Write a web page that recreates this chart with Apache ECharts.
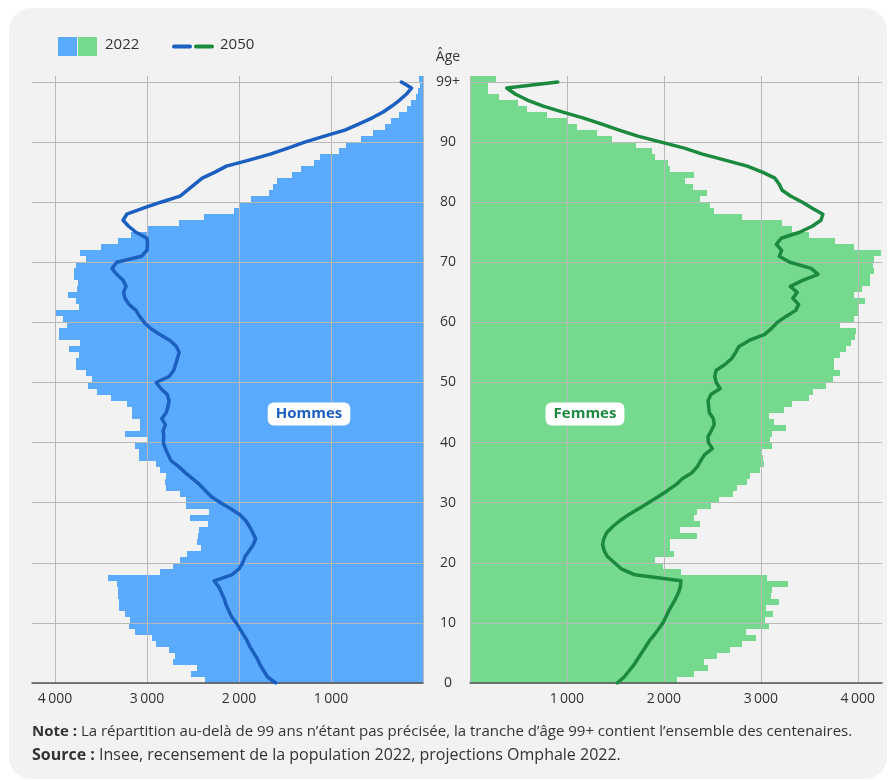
<!DOCTYPE html>
<html lang="fr">
<head>
<meta charset="utf-8">
<title>Pyramide des âges 2022 / 2050</title>
<script src="https://cdn.jsdelivr.net/npm/echarts/dist/echarts.min.js"></script>
<style>
  html, body { margin: 0; padding: 0; background: #ffffff; }
  #card {
    position: absolute; left: 9px; top: 8px; width: 878px; height: 771px;
    background: #f2f2f2; border-radius: 22px;
  }
  #chart { position: absolute; left: 0; top: 0; width: 891px; height: 780px; }
</style>
</head>
<body>
<div id="card"></div>
<div id="chart"></div>
<script>
// Ages 0..100, the last slot being shown as "99+"
const ages = Array.from({ length: 101 }, (_, i) => i);
const topAgeLabel = '99+';

// Hommes, recensement 2022 (bars)
const hommes2022 = [
  2365, 2520, 2460, 2720, 2700, 2760, 2900, 2950, 3130, 3195,
  3190, 3240, 3300, 3300, 3310, 3315, 3330, 3420, 2860, 2720,
  2645, 2565, 2409, 2456, 2445, 2434, 2337, 2536, 2329, 2572,
  2579, 2645, 2797, 2800, 2797, 2855, 2905, 3087, 3087, 3134,
  2989, 3235, 3072, 3072, 3159, 3159, 3213, 3387, 3539, 3641,
  3600, 3666, 3768, 3768, 3742, 3851, 3731, 3956, 3956, 3866,
  3913, 3996, 3739, 3775, 3858, 3760, 3750, 3797, 3797, 3768,
  3659, 3731, 3496, 3315, 3177, 2996, 2652, 2384, 2054, 1992,
  1873, 1674, 1630, 1587, 1420, 1329, 1184, 1123, 913, 833,
  670, 543, 416, 344, 261, 174, 127, 80, 54, 29,
  43
];

// Femmes, recensement 2022 (bars)
const femmes2022 = [
  2134, 2313, 2451, 2416, 2547, 2678, 2809, 2946, 2843, 3084,
  3043, 3125, 3057, 3184, 3105, 3115, 3277, 3063, 2175, 1990,
  1910, 2100, 2058, 2065, 2341, 2162, 2368, 2313, 2341, 2485,
  2564, 2712, 2754, 2857, 2884, 2995, 3036, 3022, 3012, 3115,
  3098, 3115, 3263, 3139, 3081, 3235, 3322, 3494, 3538, 3676,
  3745, 3814, 3752, 3752, 3814, 3883, 3931, 3976, 3986, 3821,
  3959, 4010, 4010, 4079, 3966, 4044, 4124, 4130, 4172, 4158,
  4165, 4240, 3966, 3769, 3494, 3322, 3218, 2805, 2520, 2471,
  2375, 2444, 2300, 2220, 2313, 2058, 2038, 1910, 1876, 1714,
  1463, 1308, 1101, 998, 799, 592, 499, 303, 189, 189,
  268
];

// Hommes, projection 2050 (line)
const hommes2050 = [
  1600, 1690, 1730, 1770, 1800, 1840, 1880, 1910, 1950, 1990,
  2030, 2080, 2110, 2140, 2160, 2190, 2220, 2270, 2080, 2000,
  1960, 1935, 1890, 1845, 1820, 1850, 1885, 1925, 1990, 2090,
  2200, 2300, 2365, 2427, 2505, 2585, 2655, 2740, 2770, 2800,
  2822, 2818, 2824, 2800, 2840, 2790, 2772, 2760, 2780, 2850,
  2900, 2760, 2710, 2690, 2670, 2650, 2680, 2750, 2860, 2960,
  3030, 3080, 3120, 3195, 3240, 3255, 3228, 3260, 3330, 3380,
  3330, 3060, 3000, 2995, 3000, 3120, 3200, 3260, 3220, 3040,
  2850, 2640, 2560, 2480, 2400, 2260, 2137, 1891, 1660, 1467,
  1286, 1071, 849, 700, 556, 433, 338, 253, 179, 125,
  235
];

// Femmes, projection 2050 (line)
const femmes2050 = [
  1520, 1590, 1640, 1690, 1730, 1770, 1810, 1850, 1900, 1945,
  1990, 2020, 2050, 2085, 2120, 2150, 2170, 2175, 1700, 1560,
  1490, 1420, 1385, 1368, 1380, 1410, 1470, 1545, 1635, 1740,
  1840, 1940, 2035, 2125, 2190, 2290, 2345, 2380, 2420, 2500,
  2460, 2455, 2490, 2520, 2510, 2468, 2462, 2456, 2485, 2580,
  2540, 2525, 2538, 2630, 2700, 2740, 2775, 2880, 3040, 3110,
  3170, 3260, 3360, 3390, 3330, 3375, 3305, 3430, 3590, 3520,
  3300, 3190, 3215, 3160, 3210, 3400, 3530, 3620, 3640, 3530,
  3430, 3310, 3220, 3190, 3145, 3016, 2860, 2631, 2398, 2211,
  1972, 1731, 1539, 1360, 1173, 958, 755, 591, 466, 379,
  905
];

const BLUE = '#5aabff';
const GREEN = '#75da8e';
const BLUE_LINE = '#1b5fc1';
const GREEN_LINE = '#1b8a3e';
const GRID = '#b9b9b9';
const TEXT = '#333333';
const FONT = 'Open Sans';

function thousands(v) {
  return String(v).replace(/\B(?=(\d{3})+(?!\d))/g, '\u2009');
}

// one rect per age slot, from age to age + 1, snapped to whole pixels so
// neighbouring slots meet without seams
function renderBar(params, api) {
  const val = api.value(0);
  const age = api.value(1);
  const a = api.coord([0, age]);
  const b = api.coord([val, age + 1]);
  const x1 = Math.round(Math.min(a[0], b[0]));
  const x2 = Math.round(Math.max(a[0], b[0]));
  const y1 = Math.round(Math.min(a[1], b[1]));
  const y2 = Math.round(Math.max(a[1], b[1]));
  return {
    type: 'rect',
    shape: { x: x1, y: y1, width: x2 - x1, height: y2 - y1 },
    style: { fill: api.visual('color') }
  };
}

function xAxisFor(gridIndex, inverse) {
  return {
    gridIndex: gridIndex,
    type: 'value',
    inverse: inverse,
    min: 0,
    max: 4250,
    interval: 1000,
    z: 3,
    axisLine: { show: true, onZero: false, lineStyle: { color: '#555555', width: 1.5 } },
    axisTick: { show: false },
    splitLine: { show: true, showMaxLine: false, lineStyle: { color: GRID, width: 1 } },
    axisLabel: {
      showMinLabel: false,
      showMaxLabel: false,
      formatter: thousands,
      color: TEXT,
      fontSize: 14,
      fontFamily: FONT,
      margin: 9
    }
  };
}

function yAxisFor(gridIndex, withLabels) {
  return {
    gridIndex: gridIndex,
    type: 'value',
    min: 0,
    max: 101,
    interval: 10,
    z: 3,
    axisLine: { show: false },
    axisTick: { show: false },
    splitLine: { show: true, showMaxLine: false, lineStyle: { color: GRID, width: 1 } },
    axisLabel: {
      show: withLabels,
      showMaxLabel: false,
      formatter: v => (v === 100 ? topAgeLabel : String(v)),
      align: 'center',
      margin: 22,
      color: TEXT,
      fontSize: 14,
      fontFamily: FONT
    }
  };
}

const chart = echarts.init(document.getElementById('chart'), null, { renderer: 'canvas' });

const option = {
  animation: false,
  backgroundColor: 'transparent',
  textStyle: { fontFamily: FONT },
  grid: [
    { left: 32, top: 76, width: 391, height: 607 },
    { left: 470, top: 76, width: 412, height: 607 }
  ],
  xAxis: [xAxisFor(0, true), xAxisFor(1, false)],
  yAxis: [yAxisFor(0, false), yAxisFor(1, true)],
  series: [
    {
      name: 'Hommes 2022',
      type: 'custom',
      xAxisIndex: 0,
      yAxisIndex: 0,
      renderItem: renderBar,
      itemStyle: { color: BLUE },
      encode: { x: 0, y: 1 },
      data: ages.map((a, i) => [hommes2022[i], a]),
      z: 2
    },
    {
      name: 'Femmes 2022',
      type: 'custom',
      xAxisIndex: 1,
      yAxisIndex: 1,
      renderItem: renderBar,
      itemStyle: { color: GREEN },
      encode: { x: 0, y: 1 },
      data: ages.map((a, i) => [femmes2022[i], a]),
      z: 2
    },
    {
      name: 'Hommes 2050',
      type: 'line',
      xAxisIndex: 0,
      yAxisIndex: 0,
      showSymbol: false,
      data: ages.map((a, i) => [hommes2050[i], a]),
      lineStyle: { color: BLUE_LINE, width: 3.5, cap: 'round', join: 'round' },
      z: 5
    },
    {
      name: 'Femmes 2050',
      type: 'line',
      xAxisIndex: 1,
      yAxisIndex: 1,
      showSymbol: false,
      data: ages.map((a, i) => [femmes2050[i], a]),
      lineStyle: { color: GREEN_LINE, width: 3.5, cap: 'round', join: 'round' },
      z: 5
    }
  ],
  graphic: [
    // legend: 2022 squares, 2050 strokes
    { type: 'rect', left: 58, top: 37, shape: { width: 19, height: 19 }, style: { fill: BLUE } },
    { type: 'rect', left: 78, top: 37, shape: { width: 19, height: 19 }, style: { fill: GREEN } },
    { type: 'text', left: 105, top: 37, style: { text: '2022', fill: TEXT, font: '15px "Open Sans"' } },
    { type: 'line', shape: { x1: 174, y1: 46.5, x2: 190, y2: 46.5 }, style: { stroke: BLUE_LINE, lineWidth: 4, lineCap: 'round' } },
    { type: 'line', shape: { x1: 196, y1: 46.5, x2: 212, y2: 46.5 }, style: { stroke: GREEN_LINE, lineWidth: 4, lineCap: 'round' } },
    { type: 'text', left: 220, top: 37, style: { text: '2050', fill: TEXT, font: '15px "Open Sans"' } },
    // age axis title
    { type: 'text', x: 448, y: 57, style: { text: 'Âge', fill: TEXT, font: '14px "Open Sans"', textAlign: 'center', textVerticalAlign: 'middle' } },
    // panel labels
    {
      type: 'text', x: 309, y: 414, z: 10,
      style: {
        text: 'Hommes', fill: BLUE_LINE, font: 'bold 15px "Open Sans"',
        textAlign: 'center', textVerticalAlign: 'middle',
        backgroundColor: '#ffffff', borderRadius: 6, padding: [4, 8, 4, 8]
      }
    },
    {
      type: 'text', x: 585, y: 414, z: 10,
      style: {
        text: 'Femmes', fill: GREEN_LINE, font: 'bold 15px "Open Sans"',
        textAlign: 'center', textVerticalAlign: 'middle',
        backgroundColor: '#ffffff', borderRadius: 6, padding: [4, 8, 4, 8]
      }
    },
    // note and source
    {
      type: 'text', x: 32, y: 732,
      style: {
        text: '{b|Note :} La répartition au-delà de 99 ans n’étant pas précisée, la tranche d’âge 99+ contient l’ensemble des centenaires.',
        fill: TEXT, font: '15px "Open Sans"', textVerticalAlign: 'middle',
        rich: { b: { fontWeight: 'bold', fontSize: 15, fontFamily: FONT, fill: TEXT } }
      }
    },
    {
      type: 'text', x: 32, y: 755,
      style: {
        text: '{b|Source :} Insee, recensement de la population 2022, projections Omphale 2022.',
        fill: TEXT, font: '16px "Open Sans"', textVerticalAlign: 'middle',
        rich: { b: { fontWeight: 'bold', fontSize: 16, fontFamily: FONT, fill: TEXT } }
      }
    }
  ]
};

chart.setOption(option);

window.addEventListener('resize', () => {
  chart.resize();
});
</script>
</body>
</html>
